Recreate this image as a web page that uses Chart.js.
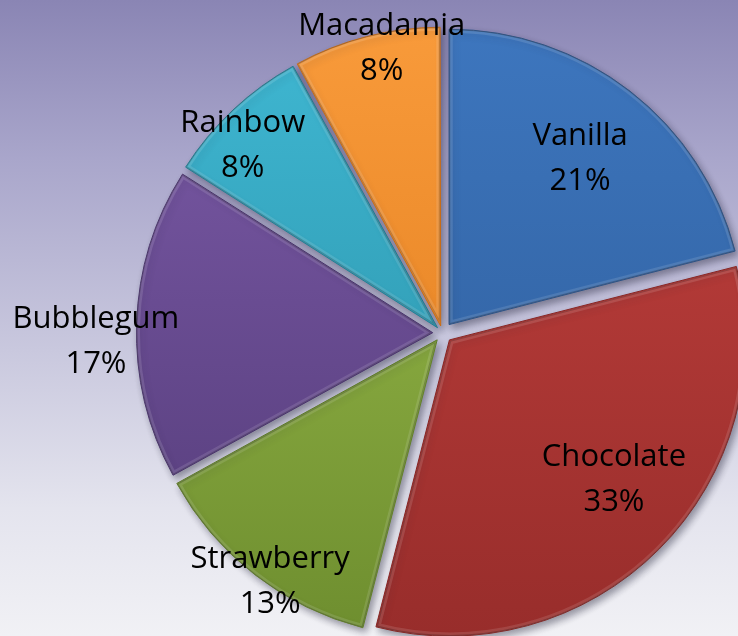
<!DOCTYPE html>
<html>
<head>
<meta charset="utf-8">
<script src="https://cdn.jsdelivr.net/npm/chart.js@4/dist/chart.umd.min.js"></script>
<style>
  html, body { margin: 0; padding: 0; }
  body { width: 738px; height: 636px; overflow: hidden;
    background: linear-gradient(to bottom, #8a85b4 0%, #a9a6cb 25%, #c9c8de 55%, #e4e4ee 80%, #f1f1f5 100%); }
  #wrap { position: relative; width: 738px; height: 636px; }
</style>
</head>
<body>
<div id="wrap"><canvas id="c" width="738" height="636"></canvas></div>
<script>
// ---- data ----
const categories = ["Vanilla", "Chocolate", "Strawberry", "Bubblegum", "Rainbow", "Macadamia"];
const values = [21, 33, 13, 17, 8, 8];
const percentLabels = ["21%", "33%", "13%", "17%", "8%", "8%"];

// ---- styles ----
const lightColors = ["#3d76be", "#c2413e", "#9dbf4d", "#7b5aa7", "#3fb7d2", "#f89a3a"];
const darkColors  = ["#2d5a96", "#982d2b", "#6e8e2f", "#533b78", "#288ca2", "#de7919"];
const edgeColors  = ["#2a5288", "#862624", "#627f2a", "#4a346c", "#237d92", "#c86b14"];
// label placement: [angle tweak in degrees, radius fraction]
const labelPlace = [[0.3, 0.756], [-4.7, 0.762], [-2.9, 1.021], [-3.0, 1.175], [-3.4, 0.932], [2.4, 0.991]];
const EXPLODE = 11;   // desired radial displacement in px
const RADIUS = 295;

const total = values.reduce((a, b) => a + b, 0);

function offsetFor(ctx) {
  const v = values[ctx.dataIndex];
  const circ = v / total * Math.PI * 2;
  const fix = 1 - Math.sin(Math.min(Math.PI, circ));
  return 4 * EXPLODE / (1 + fix);
}

function fillFor(ctx) {
  const chart = ctx.chart;
  const i = ctx.dataIndex;
  const area = chart.chartArea;
  if (!area) return lightColors[i];
  const cy = (area.top + area.bottom) / 2;
  const g = chart.ctx.createLinearGradient(0, cy - RADIUS, 0, cy + RADIUS);
  g.addColorStop(0, lightColors[i]);
  g.addColorStop(1, darkColors[i]);
  return g;
}

const shadowPlugin = {
  id: 'shadow',
  beforeDatasetsDraw(chart) {
    const c = chart.ctx;
    c.save();
    c.shadowColor = 'rgba(40,40,60,0.45)';
    c.shadowBlur = 7;
    c.shadowOffsetX = 3;
    c.shadowOffsetY = 4;
  },
  afterDatasetsDraw(chart) {
    chart.ctx.restore();
  }
};

const bevelPlugin = {
  id: 'bevel',
  afterDatasetsDraw(chart) {
    const meta = chart.getDatasetMeta(0);
    const c = chart.ctx;
    meta.data.forEach((arc, i) => {
      const p = arc.getProps(['x', 'y', 'startAngle', 'endAngle', 'outerRadius'], true);
      const off = arc.options.offset / 4;
      const circ = p.endAngle - p.startAngle;
      const fix = 1 - Math.sin(Math.min(Math.PI, circ));
      const mid = (p.startAngle + p.endAngle) / 2;
      const d = off * (1 + fix);
      const x = p.x + Math.cos(mid) * d, y = p.y + Math.sin(mid) * d;
      c.save();
      c.beginPath();
      c.moveTo(x, y);
      c.arc(x, y, p.outerRadius, p.startAngle, p.endAngle);
      c.closePath();
      c.clip();
      c.lineJoin = 'round';
      c.strokeStyle = 'rgba(255,255,255,0.12)';
      c.lineWidth = 7;
      c.stroke();
      c.strokeStyle = 'rgba(0,0,0,0.2)';
      c.lineWidth = 2;
      c.stroke();
      c.restore();
    });
  }
};

const labelPlugin = {
  id: 'sliceLabels',
  afterDraw(chart) {
    const meta = chart.getDatasetMeta(0);
    const c = chart.ctx;
    c.save();
    c.font = '31px "Open Sans", sans-serif';
    c.fillStyle = '#000';
    c.textAlign = 'center';
    c.textBaseline = 'alphabetic';
    const lineGap = 45, cap = 21;
    meta.data.forEach((arc, i) => {
      const p = arc.getProps(['x', 'y', 'startAngle', 'endAngle', 'outerRadius'], true);
      const mid = (p.startAngle + p.endAngle) / 2 + labelPlace[i][0] * Math.PI / 180;
      const r = p.outerRadius * labelPlace[i][1];
      const lx = p.x + Math.cos(mid) * r;
      const ly = p.y + Math.sin(mid) * r;
      c.fillText(categories[i], lx, ly - lineGap / 2 + cap / 2);
      c.fillText(percentLabels[i], lx, ly + lineGap / 2 + cap / 2);
    });
    c.restore();
  }
};

new Chart(document.getElementById('c'), {
  type: 'pie',
  data: {
    labels: categories,
    datasets: [{
      data: values,
      backgroundColor: fillFor,
      borderColor: edgeColors,
      borderWidth: 1,
      offset: offsetFor,
      radius: RADIUS,
      clip: false
    }]
  },
  options: {
    responsive: false,
    animation: false,
    devicePixelRatio: 1,
    layout: { padding: { left: 147, right: 0, top: 30, bottom: 0 } },
    plugins: {
      legend: { display: false },
      tooltip: { enabled: false }
    }
  },
  plugins: [shadowPlugin, bevelPlugin, labelPlugin]
});
</script>
</body>
</html>
